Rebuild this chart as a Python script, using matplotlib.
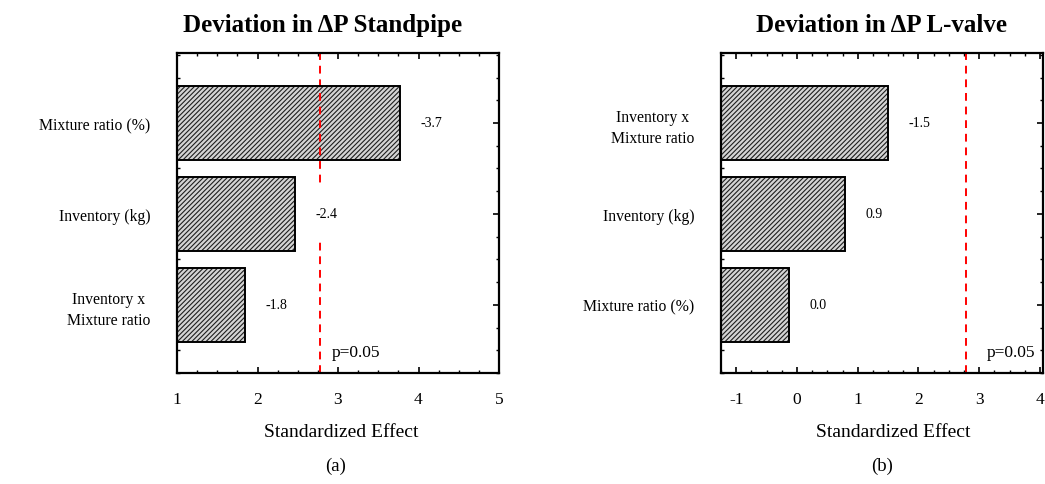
import matplotlib
matplotlib.use('Agg')
import matplotlib.pyplot as plt
from matplotlib.ticker import MultipleLocator

plt.rcParams['font.family'] = ['Liberation Serif', 'DejaVu Serif']
plt.rcParams['axes.unicode_minus'] = False
plt.rcParams['hatch.linewidth'] = 0.8

# (a) Deviation in dP Standpipe (bottom to top)
cats_a = ['Inventory x\nMixture ratio', 'Inventory (kg)', 'Mixture ratio (%)']
effect_a = [1.84, 2.46, 3.77]
text_a = ['-1.8', '-2.4', '-3.7']

# (b) Deviation in dP L-valve (bottom to top)
cats_b = ['Mixture ratio (%)', 'Inventory (kg)', 'Inventory x\nMixture ratio']
effect_b = [-0.13, 0.79, 1.50]
text_b = ['0.0', '0.9', '-1.5']

p_crit = 2.776

fig = plt.figure(figsize=(10.45, 4.85), dpi=100)
ax1 = fig.add_axes([177/1045, 1 - 374/485, 322/1045, 320/485])
ax2 = fig.add_axes([721/1045, 1 - 374/485, 322/1045, 320/485])


def draw(ax, cats, vals, labels, xlim, title, title_x, xlabel_x, p_dx):
    y = range(len(cats))
    base = xlim[0]
    w = [v - base for v in vals]
    # hatched fill, then the outline on top
    ax.barh(y, w, left=base, height=0.81, color='#d4d4d4', edgecolor='#1e1e1e',
            linewidth=0, hatch='///////', zorder=2)
    ax.barh(y, w, left=base, height=0.81, fill=False, edgecolor='black',
            linewidth=1.4, zorder=6)
    ax.axvline(p_crit, color='red', linestyle=(0, (4, 3)), linewidth=1.4, zorder=4)
    for yi, v, t in zip(y, vals, labels):
        ax.annotate(t, (v, yi), xytext=(15, 0), textcoords='offset points',
                    ha='left', va='center', fontsize=10, zorder=5,
                    bbox=dict(boxstyle='square,pad=1.4', fc='white', ec='none'))
    ax.text(p_crit + p_dx, -0.52, 'p=0.05', ha='left', va='center', fontsize=12.5, zorder=5)

    ax.set_xlim(*xlim)
    ax.set_ylim(-0.75, 2.77)
    ax.set_yticks(list(y))
    ax.set_yticklabels(cats, fontsize=11.3, multialignment='center', linespacing=1.45)
    ax.xaxis.set_major_locator(MultipleLocator(1))
    ax.xaxis.set_minor_locator(MultipleLocator(0.25))
    ax.yaxis.set_minor_locator(MultipleLocator(0.25))
    ax.tick_params(which='both', direction='in', top=True, right=True)
    ax.tick_params(which='major', length=4, width=1.2)
    ax.tick_params(which='minor', length=2.5, width=1.0)
    ax.tick_params(axis='x', which='major', labelsize=12.5, pad=13)
    ax.tick_params(axis='y', which='major', pad=19)
    for s in ax.spines.values():
        s.set_linewidth(1.6)
        s.set_zorder(7)

    ax.set_xlabel('Standardized Effect', fontsize=14)
    ax.xaxis.set_label_coords(xlabel_x, -0.155)
    ax.set_title(title, fontsize=18, fontweight='bold', x=title_x, pad=16)


draw(ax1, cats_a, effect_a, text_a, (1, 5), 'Deviation in ΔP Standpipe', 0.453, 0.509, 0.15)
draw(ax2, cats_b, effect_b, text_b, (-1.25, 4.05), 'Deviation in ΔP L-valve', 0.5, 0.534, 0.35)

fig.text(336/1045, 1 - 466/485, '(a)', ha='center', va='center', fontsize=13.5)
fig.text(882/1045, 1 - 466/485, '(b)', ha='center', va='center', fontsize=13.5)

fig.savefig('out.png', dpi=100)
